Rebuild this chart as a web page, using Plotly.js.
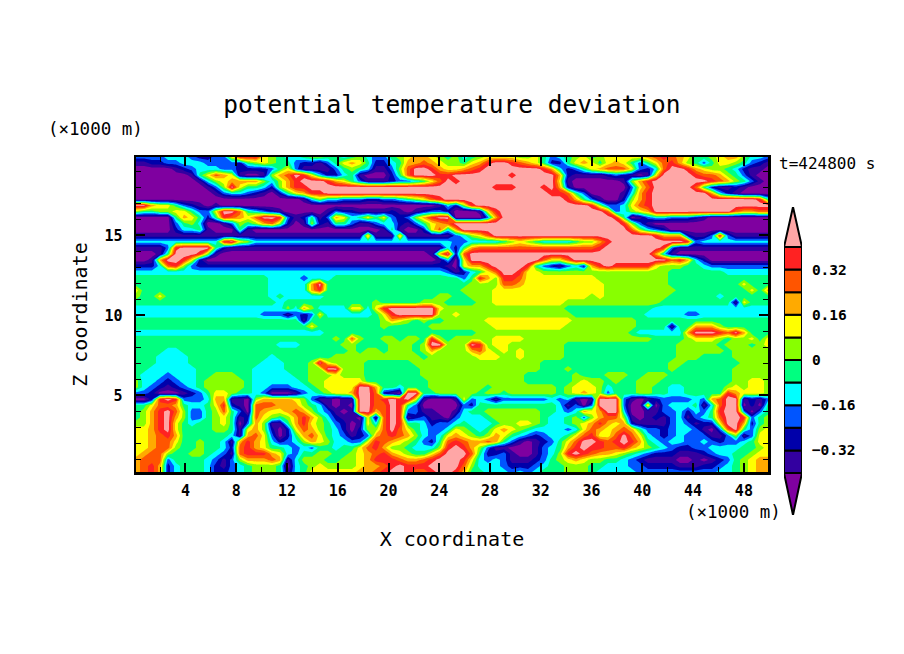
<!DOCTYPE html>
<html>
<head>
<meta charset="utf-8">
<script src="https://cdn.plot.ly/plotly-3.0.1.min.js"></script>
<style>html,body{margin:0;padding:0;background:#fff}</style>
</head>
<body>
<div id="chart" style="width:904px;height:654px"></div>
<script>
// Contour band boundaries and colours (purple end to pink end)
var levels = [-0.4,-0.32,-0.24,-0.16,-0.08,0,0.08,0.16,0.24,0.32,0.4];
var bandColors = ['#7f00a0','#3300a0','#0000aa','#0055ff','#00ffff','#00ff80','#88ff00','#ffff00','#ffaa00','#ff5500','#ff2222','#ffa6a6'];
// Value representing each band code 0-9,a,b
var bandValues = [-0.44,-0.36,-0.28,-0.2,-0.12,-0.04,0.04,0.12,0.2,0.28,0.36,0.44];
var colorbarTickVals = [-0.32,-0.16,0,0.16,0.32];
var colorbarTickText = ['\u22120.32','\u22120.16','0','0.16','0.32'];
// Field, top row first, one band code per grid node
var fieldRows = [
"3333444322 337aaa7654 4566554564 3356788765 6456777766 7534567567 777789a987 5567886443",
"1122334443 3332567655 3221357875 2245889876 6578abba98 7522578757 8753579a86 5357765321",
"0000012344 4332222357 3111135654 11369bba87 789abbbbbb ba84235789 9973249bba 8766542110",
"0000000157 9871001689 ba74224510 00259bbbaa bbbbbbbabb bbb8211112 321017bbbb a998653100",
"0000000014 6788886468 abbba87531 112334579b abbbbbbbbb bbb7100000 0168abbbbb bba9865310",
"0000000001 36b7554268 aabbbbbbbb bbbbbbbbbb bbbbbaaabb bab8200000 00379bbbbb 9521121000",
"0000000000 1344321025 78aabbbbbb bbbbbbbbbb bbbbbbbbbb bbaa953000 0148abbbbb bb84210000",
"0000000000 0000000000 0146443332 23345679ab bbbbbbbbbb bbbba85310 0268abbbbb bbbbbbbba5",
"bb87753210 1000000000 0000000000 0000000014 26abbbbbbb bbbbbbba63 3479abbbbb bbbbbbbbbb",
"6556677533 7bb9543210 0000132211 1121012332 00017abbbb bbbbbbbbb9 34678bbbbb bbbbb98899",
"0000058752 5a9879bba3 1251387457 5732368abb 000038bbbb bbbbbbbbbb a501344333 2100000000",
"0000035640 0136568962 0162155311 3442135789 bbbbbbbbbb bbbbbbbbbb ba63100000 0000000000",
"0000024451 0005100000 0000000000 0151002794 8bbbbbbbbb bbbbbbbbbb bb96432000 0000000000",
"1111111111 1111111111 1111111118 1118111111 34679bbbbb bbbbbbbbbb bbbbba8882 113a311111",
"4444444444 4ab7644444 4444444444 4444444444 3344445676 544445668a bbbbbbbbba 3444444444",
"11113abbbb 5211111111 1111111111 1111111114 2589999999 99999999ab bbbbbba311 1111111111",
"00015bbba6 1000000000 0000000000 000000018b 29bbbbbbbb bbbbbbbbbb bbbbb84100 0000000000",
"0018bba720 0000000000 0000000000 0000000014 07bbbbbbbb b9779bbbbb bbbbbbb9a8 4200000000",
"22249a6322 2222222222 2222222222 2222222221 0788abbbba 53213428ab aaaaa76665 5433333333",
"4444444444 4444444444 4444444444 4444444443 124579bba7 7666666666 6666666555 5555444444",
"5555555555 5555555444 4344455555 5555555555 535a86aa97 7777777766 6666666555 5555555555",
"5555555555 5555555444 448b555555 5555555555 5566669987 7777777776 6666666555 5555557555",
"7555555555 5555555444 448a555555 5555555555 5666677777 7777777776 6666666655 5555555758",
"6557555555 5555555454 4444555555 5555555566 5566677777 7777777676 6666666555 5554555555",
"5555555555 5555555545 5555555555 6555556665 5556677777 7777666666 6666665555 5555517555",
"4444444444 4444444446 4864444774 7abbbbbb76 6666666666 6666555555 5555544444 4444444444",
"4444444444 4444443331 3237444444 57abbbbb66 7666666666 6666655555 5555444443 3444444444",
"5555555555 5555555555 5155555555 5687656556 6666777777 7777766666 6665555555 5555555555",
"5555555555 5555555555 5575555555 5655555666 6666677777 7777666666 6665555155 8886555555",
"4444444444 4444444444 4444555555 5555555555 5556666666 6666666666 6654444448 bbba9b8555",
"5555555555 5555555555 5555565965 5665665a65 6666677776 6666666666 6666655556 7776566757",
"5555555555 5555555544 4555556655 5566656bb6 66ba677666 6666555555 5555555566 6665666567",
"5555445555 5555555555 5555555656 6566656866 6689767676 6666555555 5555555566 6666566666",
"5554444555 5555555455 5555566666 6666665666 6667776676 6666555555 5555555566 6555566666",
"5554444555 5555554445 556b766665 5555566666 6666666666 6555555555 5555555665 5555556666",
"5544444455 5555544445 5566bb6665 5555556666 6666666666 6555655555 5555555655 5555566666",
"5444344455 6665544444 5566676665 5555556666 6666666665 5555565556 6655666555 5555566666",
"6443234456 6666544444 4566777775 5555555666 6666666665 5555567665 6556665555 5555566776",
"6432123456 6666544333 44567777bb 8554555666 6666566666 6665677764 5556655445 5555676776",
"3320001235 7765543000 13456778bb 9210bb5566 6665665666 6665678763 5556655445 5555a87776",
"002aba3334 8811068888 76311011bb 9abab71000 1734313333 33434101bb b310123333 4389bb1213",
"5579985445 7a21099988 86541010bb 99ba530000 0325555555 55541303bb b300803444 5149bb0205",
"568ab96335 6953098778 98643101bb 89ba331100 1455666666 655434878b b400113342 435abb3035",
"568ab86335 6751297656 8a86421107 19ba123110 3444566666 6544563689 9610121341 3459bba356",
"668ab75455 6750386115 8a76532017 49ba554233 4544456677 65445678a8 7821111343 1227bb8256",
"778ab75555 6651786202 7986542026 69b9754334 7654578765 4444347987 8985332344 31039b5367",
"7789a85555 5541897302 5897543123 89a9864347 8765687543 2344579a77 9b97432343 3311361377",
"7789975565 5418a87423 4687644337 a987653259 a988985310 123579bba9 aba8543443 3432334577",
"7789965565 5429a87554 3435545579 a86654446a ba86311000 13458abaa9 9a87654322 3344445567",
"7899655665 4319aaa874 3556655678 9a8765579b bb95223100 1346aba988 7654322211 1234455677",
"8999355554 3136888981 4666556678 aaa9889abb ba74343111 2356787665 5432111100 1012356788",
"89a8245554 2134566650 4567666678 89abaaabbb b964443222 3455666554 4433222211 1223456788",
"89a8245554 2234566651 4577777788 9abba99abb a855444343 4555666544 4443333333 3334456788"
];
var xRange = [0.1, 49.9];
var zRange = [0.2, 19.9];

var W = 904, H = 654;
var plot = {l:136, r:768, t:157, b:472};
var cbar = {l:784, r:802, t:207, b:515, boxTop:247, boxBottom:473};
var FONT = '"DejaVu Sans Mono", monospace';

var codes = '0123456789ab';
var z = fieldRows.map(function(r){
  return r.replace(/ /g,'').split('').map(function(c){ return bandValues[codes.indexOf(c)]; });
}).reverse();
var nx = z[0].length, ny = z.length;
var xNodes = z[0].map(function(_,i){ return xRange[0] + (xRange[1]-xRange[0])*i/(nx-1); });
var zNodes = z.map(function(_,k){ return zRange[0] + (zRange[1]-zRange[0])*k/(ny-1); });

var zmin = bandValues[0]-0.04, zmax = bandValues[11]+0.04;
var scale = [];
bandColors.forEach(function(c,i){ scale.push([i/12,c]); scale.push([(i+1)/12,c]); });

var field = {
  type:'contour', x:xNodes, y:zNodes, z:z, zmin:zmin, zmax:zmax, colorscale:scale, showscale:false,
  autocontour:false, contours:{start:levels[0], end:levels[10], size:0.08, coloring:'fill', showlines:false},
  line:{width:0, smoothing:0}, hoverinfo:'skip', xaxis:'x', yaxis:'y'
};

// Colour key on its own axes: boxes for the closed bands, triangles for the open ends
var unitPerPx = 0.8/(cbar.boxBottom-cbar.boxTop);
var keyTop = levels[10] + (cbar.boxTop-cbar.t)*unitPerPx;
var keyBot = levels[0] - (cbar.b-cbar.boxBottom)*unitPerPx;
var boxes = {
  type:'bar', x:levels.slice(0,10).map(function(){return 0.5;}), y:levels.slice(0,10).map(function(){return 0.08;}),
  base:levels.slice(0,10), width:1, marker:{color:bandColors.slice(1,11), line:{color:'#000',width:2}},
  xaxis:'x2', yaxis:'y2', showlegend:false, hoverinfo:'skip', cliponaxis:false
};
function tri(edge, tip, color){
  return {type:'scatter', mode:'lines', x:[0,0.5,1,0], y:[edge,tip,edge,edge], fill:'toself', fillcolor:color,
    line:{color:'#000',width:2}, xaxis:'x2', yaxis:'y2', showlegend:false, hoverinfo:'skip', cliponaxis:false};
}
var triUp = tri(levels[10], keyTop, bandColors[11]);
var triDown = tri(levels[0], keyBot, bandColors[0]);

var layout = {
  width:W, height:H, margin:{l:0,r:0,t:0,b:0}, paper_bgcolor:'#fff', plot_bgcolor:'#fff', showlegend:false, barmode:'overlay',
  title:{text:'potential temperature deviation', x:452/W, y:1-104/H, xanchor:'center', yanchor:'middle', font:{family:FONT,size:24.5,color:'#000'}},
  font:{family:FONT,color:'#000'},
  xaxis:{domain:[plot.l/W,plot.r/W], range:xRange, tick0:0, dtick:4, ticks:'inside', ticklen:9, tickwidth:2, tickcolor:'#000',
    showline:true, linecolor:'#000', linewidth:2.5, mirror:'ticks', showgrid:false, zeroline:false, ticklabelstandoff:3,
    minor:{tick0:0,dtick:2,ticks:'inside',ticklen:5,tickwidth:1,tickcolor:'#000',showgrid:false},
    tickfont:{family:FONT,size:15,weight:700,color:'#000'},
    title:{text:'X coordinate', font:{family:FONT,size:20,color:'#000'}, standoff:34}},
  yaxis:{domain:[1-plot.b/H,1-plot.t/H], range:zRange, tick0:0, dtick:5, ticks:'inside', ticklen:9, tickwidth:2, tickcolor:'#000',
    showline:true, linecolor:'#000', linewidth:2.5, mirror:'ticks', showgrid:false, zeroline:false, ticklabelstandoff:8,
    minor:{tick0:0,dtick:1,ticks:'inside',ticklen:5,tickwidth:1,tickcolor:'#000',showgrid:false},
    tickfont:{family:FONT,size:15,weight:700,color:'#000'},
    title:{text:'Z coordinate', font:{family:FONT,size:20,color:'#000'}, standoff:12}},
  xaxis2:{domain:[cbar.l/W,cbar.r/W], range:[0,1], anchor:'y2', showticklabels:false, ticks:'', showgrid:false, zeroline:false, showline:false},
  yaxis2:{domain:[1-cbar.b/H,1-cbar.t/H], range:[keyBot,keyTop], anchor:'x2', side:'right', tickmode:'array', tickvals:colorbarTickVals, ticktext:colorbarTickText,
    ticks:'outside', ticklen:6, tickcolor:'rgba(0,0,0,0)', showgrid:false, zeroline:false, showline:false,
    tickfont:{family:FONT,size:14.5,weight:700,color:'#000'}},
  annotations:[
    {xref:'paper',yref:'paper',x:95/W,y:1-129/H,xanchor:'center',yanchor:'middle',text:'(\u00d71000 m)',showarrow:false,font:{family:FONT,size:17.5,color:'#000'}},
    {xref:'paper',yref:'paper',x:733/W,y:1-512/H,xanchor:'center',yanchor:'middle',text:'(\u00d71000 m)',showarrow:false,font:{family:FONT,size:17.5,color:'#000'}},
    {xref:'paper',yref:'paper',x:827/W,y:1-163/H,xanchor:'center',yanchor:'middle',text:'t=424800 s',showarrow:false,font:{family:FONT,size:16,color:'#000'}}
  ]
};
Plotly.newPlot('chart',[field,boxes,triUp,triDown],layout,{displayModeBar:false,staticPlot:true});
</script>
</body>
</html>
